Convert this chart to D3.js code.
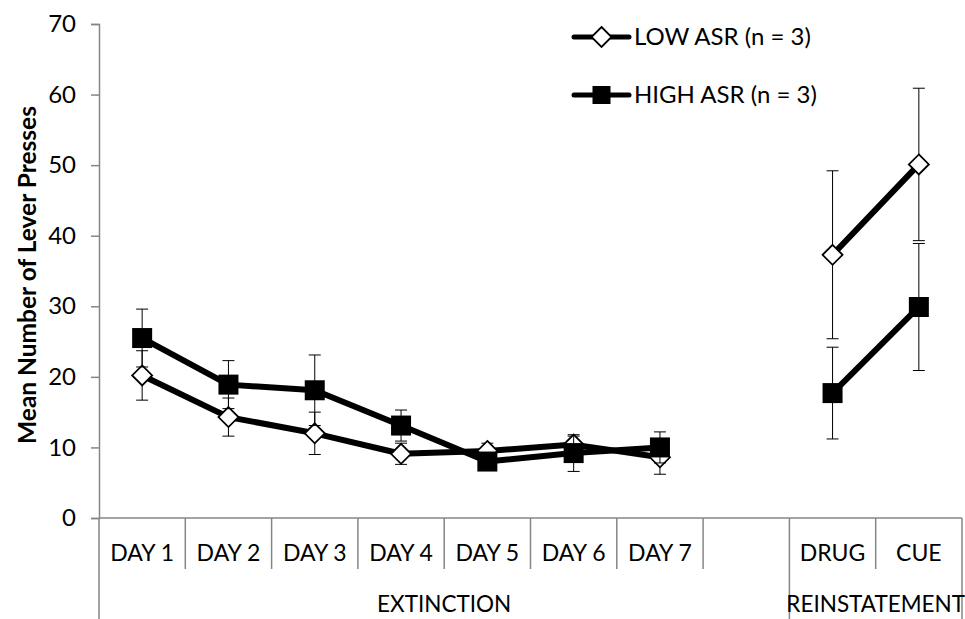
<!DOCTYPE html>
<html>
<head>
<meta charset="utf-8">
<script src="https://cdn.jsdelivr.net/npm/d3@7"></script>
<style>
  body { margin: 0; background: #fff; }
  svg { display: block; font-family: Lato, "Open Sans", sans-serif; }
</style>
</head>
<body>
<div id="chart"></div>
<script>
// categories on the x axis (the empty one is the gap between the phases)
const categories = ["DAY 1", "DAY 2", "DAY 3", "DAY 4", "DAY 5", "DAY 6", "DAY 7", "", "DRUG", "CUE"]
const groupLabels = ["EXTINCTION", "REINSTATEMENT"]
const groupSizes = [8, 2]

const seriesNames = ["LOW ASR (n = 3)", "HIGH ASR (n = 3)"]
const lowMeans = [20.2, 14.3, 12.0, 9.1, 9.5, 10.4, 8.6, null, 37.3, 50.1]
const lowErr = [3.5, 2.7, 3.0, 1.5, 1.1, 1.2, 2.4, null, 11.9, 10.8]
const highMeans = [25.5, 18.9, 18.1, 13.1, 8.0, 9.2, 10.0, null, 17.7, 29.9]
const highErr = [4.1, 3.4, 5.0, 2.2, 1.0, 2.6, 2.2, null, 6.5, 9.0]

const yTicks = [0, 10, 20, 30, 40, 50, 60, 70]

const width = 965
const height = 619
const plot = { left: 99, right: 962, top: 24, bottom: 518 }
const axisColor = "#868686"

const svg = d3.select("#chart").append("svg").attr("width", width).attr("height", height)

// scales
const x = d3.scaleBand().domain(d3.range(categories.length)).range([plot.left, plot.right]).padding(0)
const cx = (i) => x(i) + x.bandwidth() / 2
const y = d3.scaleLinear().domain([0, 70]).range([plot.bottom, plot.top])

// y axis
const yAxis = d3.axisLeft(y).tickValues(yTicks).tickSize(8).tickPadding(15)
const gy = svg.append("g").attr("transform", `translate(${plot.left},0)`).call(yAxis)
gy.select(".domain").attr("stroke", axisColor).attr("stroke-width", 1.5)
gy.selectAll(".tick line").attr("stroke", axisColor).attr("stroke-width", 1.5)
gy.selectAll(".tick text")
  .attr("font-family", "Lato, 'Open Sans', sans-serif")
  .attr("font-size", 24)
  .attr("fill", "#000")

// extend y axis down through the label area
svg.append("line")
  .attr("x1", plot.left).attr("x2", plot.left)
  .attr("y1", plot.bottom).attr("y2", height)
  .attr("stroke", axisColor).attr("stroke-width", 1.5)

// x axis line
svg.append("line")
  .attr("x1", plot.left).attr("x2", plot.right)
  .attr("y1", plot.bottom).attr("y2", plot.bottom)
  .attr("stroke", axisColor).attr("stroke-width", 1.5)

// category dividers: short ones between categories, long ones between groups
const groupStarts = [0]
groupSizes.forEach((s, i) => groupStarts.push(groupStarts[i] + s))
const dividers = d3.range(1, categories.length + 1)
svg.append("g")
  .selectAll("line")
  .data(dividers)
  .enter()
  .append("line")
  .attr("x1", (i) => (i < categories.length ? x(i) : plot.right))
  .attr("x2", (i) => (i < categories.length ? x(i) : plot.right))
  .attr("y1", plot.bottom)
  .attr("y2", (i) => (groupStarts.includes(i) ? height : 569))
  .attr("stroke", axisColor)
  .attr("stroke-width", 1.5)

// category labels
svg.append("g")
  .selectAll("text")
  .data(categories)
  .enter()
  .append("text")
  .attr("x", (d, i) => cx(i))
  .attr("y", 561)
  .attr("text-anchor", "middle")
  .attr("font-size", 23)
  .text((d) => d)

// group labels
svg.append("g")
  .selectAll("text")
  .data(groupLabels)
  .enter()
  .append("text")
  .attr("x", (d, i) => {
    const a = x(groupStarts[i])
    const last = groupStarts[i] + groupSizes[i] - 1
    const b = x(last) + x.bandwidth()
    return (a + b) / 2
  })
  .attr("y", 612)
  .attr("text-anchor", "middle")
  .attr("font-size", 22.5)
  .text((d) => d)

// y axis title
svg.append("text")
  .attr("transform", `translate(36, ${(plot.top + plot.bottom) / 2 + 4}) rotate(-90)`)
  .attr("text-anchor", "middle")
  .attr("font-size", 24.5)
  .attr("font-weight", "bold")
  .text("Mean Number of Lever Presses")

// series
const series = [
  { name: seriesNames[0], means: lowMeans, err: lowErr, shape: "diamond" },
  { name: seriesNames[1], means: highMeans, err: highErr, shape: "square" },
]

function drawMarker(g, shape, size) {
  if (shape === "square") {
    g.append("rect")
      .attr("x", -size / 2).attr("y", -size / 2)
      .attr("width", size).attr("height", size)
      .attr("fill", "#000")
  } else {
    const h = size / 2
    g.append("path")
      .attr("d", `M0,${-h}L${h},0L0,${h}L${-h},0Z`)
      .attr("fill", "#fff")
      .attr("stroke", "#000")
      .attr("stroke-width", 1.8)
  }
}

const line = d3.line()
  .defined((d) => d.v != null)
  .x((d) => cx(d.i))
  .y((d) => y(d.v))

series.forEach((s) => {
  const pts = s.means.map((v, i) => ({ i, v, e: s.err[i] })).filter((d) => d.v != null)
  const g = svg.append("g")

  // error bars
  const eb = g.selectAll(".eb").data(pts).enter().append("g")
  eb.append("line")
    .attr("x1", (d) => cx(d.i)).attr("x2", (d) => cx(d.i))
    .attr("y1", (d) => y(d.v - d.e)).attr("y2", (d) => y(d.v + d.e))
    .attr("stroke", "#000").attr("stroke-width", 1)
  ;[-1, 1].forEach((sgn) => {
    eb.append("line")
      .attr("x1", (d) => cx(d.i) - 6).attr("x2", (d) => cx(d.i) + 6)
      .attr("y1", (d) => y(d.v + sgn * d.e)).attr("y2", (d) => y(d.v + sgn * d.e))
      .attr("stroke", "#000").attr("stroke-width", 1)
  })

  // line
  g.append("path")
    .datum(s.means.map((v, i) => ({ i, v })))
    .attr("d", line)
    .attr("fill", "none")
    .attr("stroke", "#000")
    .attr("stroke-width", 6)
    .attr("stroke-linejoin", "round")

  // markers
  g.selectAll(".m")
    .data(pts)
    .enter()
    .append("g")
    .attr("transform", (d) => `translate(${cx(d.i)},${y(d.v)})`)
    .each(function () { drawMarker(d3.select(this), s.shape, 20) })
})

// legend
const legendY = [37, 95]
const legend = svg.append("g")
  .selectAll("g")
  .data(series)
  .enter()
  .append("g")
  .attr("transform", (d, i) => `translate(574, ${legendY[i]})`)
legend.append("line")
  .attr("x1", 0).attr("x2", 55)
  .attr("stroke", "#000").attr("stroke-width", 5)
  .attr("stroke-linecap", "round")
legend.append("g")
  .attr("transform", "translate(27.5,0)")
  .each(function (d) { drawMarker(d3.select(this), d.shape, d.shape === "square" ? 18 : 20) })
legend.append("text")
  .attr("x", 60)
  .attr("dy", "0.35em")
  .attr("font-size", 24)
  .text((d) => d.name)
</script>
</body>
</html>
